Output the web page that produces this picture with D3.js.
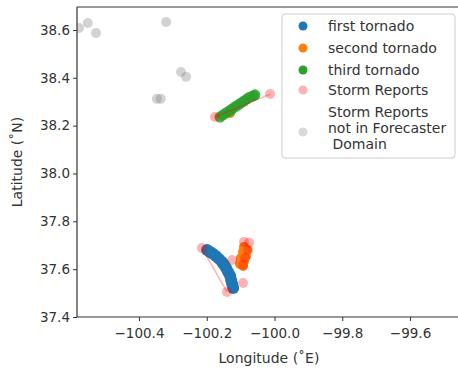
<!DOCTYPE html>
<html>
<head>
<meta charset="utf-8">
<script src="https://cdn.jsdelivr.net/npm/d3@7"></script>
<style>
  body { margin: 0; background: #fff; }
  text { font-family: "DejaVu Sans", sans-serif; }
</style>
</head>
<body>
<div id="chart"></div>
<script>
// tornado tracks [lon, lat]
var firstTornado = [
  [-100.199, 37.680], [-100.190, 37.672], [-100.182, 37.664], [-100.173, 37.655],
  [-100.164, 37.643], [-100.155, 37.630], [-100.149, 37.618], [-100.143, 37.605],
  [-100.137, 37.588], [-100.131, 37.572], [-100.128, 37.555], [-100.125, 37.538],
  [-100.122, 37.521]
];
var secondTornado = [
  [-100.090, 37.693], [-100.081, 37.680], [-100.093, 37.672], [-100.084, 37.655],
  [-100.099, 37.647], [-100.090, 37.634], [-100.102, 37.622], [-100.093, 37.613],
  [-100.131, 38.253]
];
var thirdTornado = [
  [-100.161, 38.236], [-100.152, 38.245], [-100.143, 38.253], [-100.134, 38.261],
  [-100.125, 38.270], [-100.117, 38.278], [-100.108, 38.286], [-100.099, 38.295],
  [-100.090, 38.303], [-100.081, 38.312], [-100.072, 38.320], [-100.063, 38.324],
  [-100.058, 38.329]
];
var stormReports = [
  [-100.214, 37.688], [-100.140, 37.505], [-100.125, 37.638], [-100.093, 37.542],
  [-100.090, 37.714], [-100.075, 37.710], [-100.078, 37.680], [-100.087, 37.647],
  [-100.093, 37.618], [-100.176, 38.236], [-100.013, 38.332]
];
// start/end of report paths
var stormPaths = [
  [[-100.214, 37.688], [-100.140, 37.505]],
  [[-100.176, 38.236], [-100.013, 38.332]]
];
var outsideReports = [
  [-100.577, 38.608], [-100.551, 38.629], [-100.527, 38.587], [-100.320, 38.633],
  [-100.276, 38.424], [-100.261, 38.404], [-100.347, 38.312], [-100.336, 38.312]
];
var xTicks = [-100.4, -100.2, -100.0, -99.8, -99.6];
var yTicks = [37.4, 37.6, 37.8, 38.0, 38.2, 38.4, 38.6];
var legendLabels = [
  ["first tornado"], ["second tornado"], ["third tornado"], ["Storm Reports"],
  ["Storm Reports", "not in Forecaster", " Domain"]
];

var W = 458, H = 370;
var mLeft = 77, mTop = 7, mRight = 470, mBottom = 317;

var svg = d3.select("#chart").append("svg")
    .attr("width", W)
    .attr("height", H);

var x = d3.scaleLinear().domain([-100.583, -99.423]).range([mLeft, mRight]);
var y = d3.scaleLinear().domain([37.4, 38.696]).range([mBottom, mTop]);

svg.append("clipPath").attr("id", "clip")
  .append("rect").attr("x", mLeft).attr("y", mTop)
  .attr("width", mRight - mLeft).attr("height", mBottom - mTop);

var plot = svg.append("g").attr("clip-path", "url(#clip)");

function dots(data, color, opacity, r) {
  plot.append("g").selectAll("circle")
      .data(data)
    .enter().append("circle")
      .attr("cx", function(d) { return x(d[0]); })
      .attr("cy", function(d) { return y(d[1]); })
      .attr("r", r)
      .attr("fill", color)
      .attr("fill-opacity", opacity);
}

dots(firstTornado, "#1f77b4", 1, 6);
dots(secondTornado, "#ff7f0e", 1, 5);
dots(thirdTornado, "#2ca02c", 0.85, 5.5);

var line = d3.line().x(function(d) { return x(d[0]); }).y(function(d) { return y(d[1]); });
plot.append("g").selectAll("path")
    .data(stormPaths)
  .enter().append("path")
    .attr("d", line)
    .attr("fill", "none")
    .attr("stroke", "#ff0000")
    .attr("stroke-opacity", 0.3)
    .attr("stroke-width", 1.5);
dots(stormReports, "#ff0000", 0.3, 5);
dots(outsideReports, "#808080", 0.35, 5);

// axes
var xAxis = svg.append("g")
    .attr("transform", "translate(0," + mBottom + ")")
    .call(d3.axisBottom(x).tickValues(xTicks).tickSize(4)
      .tickFormat(function(d) { return d3.format(".1f")(d).replace("-", "\u2212"); }));
var yAxis = svg.append("g")
    .attr("transform", "translate(" + mLeft + ",0)")
    .call(d3.axisLeft(y).tickValues(yTicks).tickSize(4).tickFormat(d3.format(".1f")));
[xAxis, yAxis].forEach(function(a) {
  a.select(".domain").remove();
  a.selectAll("line").attr("stroke", "#333");
  a.selectAll("text").attr("font-size", 13.5).attr("fill", "#333")
    .attr("font-family", "DejaVu Sans, sans-serif");
});
xAxis.selectAll("text").attr("dy", "1.05em");

// spines
svg.append("line").attr("x1", mLeft).attr("x2", W).attr("y1", mBottom).attr("y2", mBottom)
  .attr("stroke", "#333").attr("stroke-width", 1.2);
svg.append("line").attr("x1", mLeft).attr("x2", W).attr("y1", mTop).attr("y2", mTop)
  .attr("stroke", "#333").attr("stroke-width", 1.2);
svg.append("line").attr("x1", mLeft).attr("x2", mLeft).attr("y1", mTop).attr("y2", mBottom)
  .attr("stroke", "#333").attr("stroke-width", 1.2);

svg.append("text")
    .attr("x", 269).attr("y", 363)
    .attr("text-anchor", "middle")
    .attr("font-size", 14).attr("fill", "#333")
    .text("Longitude (\u02daE)");
svg.append("text")
    .attr("transform", "translate(22,162) rotate(-90)")
    .attr("text-anchor", "middle")
    .attr("font-size", 14).attr("fill", "#333")
    .text("Latitude (\u02daN)");

// legend
var legend = svg.append("g");
legend.append("rect")
    .attr("x", 282).attr("y", 14).attr("width", 173).attr("height", 144)
    .attr("rx", 3)
    .attr("fill", "#fff").attr("fill-opacity", 0.8)
    .attr("stroke", "#ccc");
var legendColors = [["#1f77b4", 1], ["#ff7f0e", 1], ["#2ca02c", 1], ["#ff0000", 0.3], ["#808080", 0.3]];
var rowY = [26, 48, 70, 90, 112];
legendLabels.forEach(function(lines, i) {
  var my = lines.length > 1 ? rowY[i] + 20 : rowY[i];
  legend.append("circle")
      .attr("cx", 303).attr("cy", my).attr("r", 4.5)
      .attr("fill", legendColors[i][0]).attr("fill-opacity", legendColors[i][1]);
  var t = legend.append("text")
      .attr("x", 328).attr("y", rowY[i] + 5)
      .attr("font-size", 14).attr("fill", "#333")
      .attr("xml:space", "preserve");
  lines.forEach(function(s, j) {
    t.append("tspan").attr("x", 328).attr("dy", j === 0 ? 0 : 16).text(s);
  });
});
</script>
</body>
</html>
